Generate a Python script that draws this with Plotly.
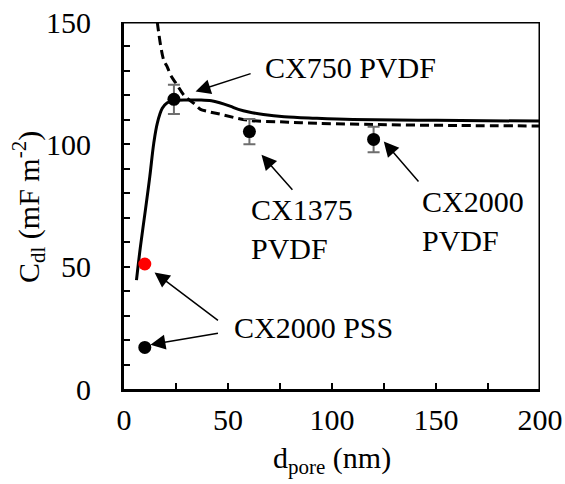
import plotly.graph_objects as go

# Model curves: double-layer capacitance vs pore diameter
model_solid_d = [6, 7.9, 10.3, 12.4, 14.3, 16, 18.4, 20.8, 24, 30, 37, 42, 46, 51, 55, 60, 67, 77,
                 92, 110, 150, 200]
model_solid_c = [44.5, 58.2, 73.2, 86.8, 100.4, 108.6, 114.7, 117, 117.8, 118.1, 118.1, 117.8, 117,
                 115.6, 114.3, 113.2, 112.2, 111.3, 110.7, 110.2, 109.8, 109.5]

model_dash_d = [16, 19.1, 20.8, 22.4, 25.6, 28.8, 33.6, 36.8, 40, 46.4, 59.2, 75, 85, 120, 160, 200]
model_dash_c = [150, 134.4, 131.7, 128.3, 124.2, 120.1, 116.7, 114.3, 113.5, 112.3, 109.9,
                109.2, 108.8, 108.1, 107.7, 107.5]

# Measured PVDF electrodes
pvdf_names = ["CX750 PVDF", "CX1375 PVDF", "CX2000 PVDF"]
pvdf_d = [24, 60.3, 120]
pvdf_c = [118.4, 105.2, 102]
pvdf_err = [6, 5.2, 5.2]

# CX2000 PSS electrode (measured and corrected)
pss_d = [10]
pss_c_measured = [17]
pss_c_corrected = [51.1]

X_RANGE = [0, 200]
Y_RANGE = [0, 150]

FONT = "Liberation Serif"
FS = 30

W, H = 565, 484
L, R, T, B = 124, 25, 22, 95
pw, ph = W - L - R, H - T - B

fig = go.Figure()

# Thin frame along the top and right edges (half of the stroke is clipped by the plot area)
fig.add_trace(go.Scatter(x=[X_RANGE[0], X_RANGE[1], X_RANGE[1]],
                         y=[Y_RANGE[1], Y_RANGE[1], Y_RANGE[0]], mode="lines",
                         line=dict(color="black", width=3), hoverinfo="skip", showlegend=False))

fig.add_trace(go.Scatter(x=model_dash_d, y=model_dash_c, mode="lines", line_shape="spline",
                         line=dict(color="black", width=3, dash="9px,5px"), showlegend=False))
fig.add_trace(go.Scatter(x=model_solid_d, y=model_solid_c, mode="lines", line_shape="spline",
                         line=dict(color="black", width=3), showlegend=False))
fig.add_trace(go.Scatter(x=pvdf_d, y=pvdf_c, mode="markers",
                         marker=dict(color="black", size=13),
                         error_y=dict(type="data", array=pvdf_err, color="#6e6e6e",
                                      thickness=2, width=6),
                         showlegend=False))
fig.add_trace(go.Scatter(x=pss_d, y=pss_c_measured, mode="markers",
                         marker=dict(color="black", size=13), showlegend=False))
fig.add_trace(go.Scatter(x=pss_d, y=pss_c_corrected, mode="markers",
                         marker=dict(color="red", size=13), showlegend=False))

tick_font = dict(family=FONT, size=FS, color="black")

fig.update_layout(
    xaxis=dict(range=X_RANGE, tickvals=[0, 50, 100, 150, 200], ticks="inside", ticklen=6,
               tickwidth=1.5, tickcolor="black", showline=True, linecolor="black", linewidth=3,
               minor=dict(dtick=25, tick0=0, ticks="inside", ticklen=6, tickwidth=1.5,
                          tickcolor="black"),
               showgrid=False, zeroline=False, tickfont=tick_font, ticklabelstandoff=2,
               automargin=False),
    yaxis=dict(range=Y_RANGE, tickvals=[0, 50, 100, 150], ticks="inside", ticklen=6,
               tickwidth=1.5, tickcolor="black", showline=True, linecolor="black", linewidth=3,
               minor=dict(dtick=10, tick0=0, ticks="inside", ticklen=6, tickwidth=1.5,
                          tickcolor="black"),
               showgrid=False, zeroline=False, tickfont=tick_font, ticklabelstandoff=24,
               automargin=False),
)

annotations = []

# Labels
label_specs = [
    ("CX750 PVDF", 66.6, 131.3),
    ("CX1375<br>PVDF", 60.0, 65.5),
    ("CX2000<br>PVDF", 142.2, 68.6),
    ("CX2000 PSS", 52.0, 25.1),
]
for text, x, y in label_specs:
    annotations.append(dict(text=text, x=x, y=y, xref="x", yref="y", xanchor="left",
                            yanchor="middle", align="left", showarrow=False,
                            font=dict(family=FONT, size=FS, color="black")))

# Arrows: (head x, head y, tail x, tail y)
arrow_specs = [
    (34.4, 121.6, 61.6, 129.1),
    (66.1, 95.7, 81.6, 80.8),
    (124.9, 101.2, 142.2, 84.2),
    (14.7, 47.6, 45.9, 27.6),
    (12.7, 18.1, 45.9, 22.9),
]
for hx, hy, tx, ty in arrow_specs:
    annotations.append(dict(text="", x=hx, y=hy, ax=tx, ay=ty, xref="x", yref="y",
                            axref="x", ayref="y", showarrow=True, arrowhead=2,
                            arrowsize=2, arrowwidth=1.5, arrowcolor="black", standoff=0))

# Axis titles (placed in paper coordinates from pixel positions)
annotations.append(dict(text="d<sub>pore</sub> (nm)", xref="paper", yref="paper",
                        x=0.5, y=-(460 - (H - B)) / ph, xanchor="center", yanchor="middle",
                        showarrow=False, font=dict(family=FONT, size=FS, color="black")))
annotations.append(dict(text="C<sub>dl</sub> (mF m<sup>-2</sup>)", xref="paper", yref="paper",
                        x=(28 - L) / pw, y=(H - B - 207) / ph, xanchor="center",
                        yanchor="middle", textangle=-90, showarrow=False,
                        font=dict(family=FONT, size=FS, color="black")))

fig.update_layout(annotations=annotations)

fig.update_layout(width=W, height=H, margin=dict(l=L, r=R, t=T, b=B, autoexpand=False),
                  plot_bgcolor="white", paper_bgcolor="white", showlegend=False)

fig.write_html("out.html")
